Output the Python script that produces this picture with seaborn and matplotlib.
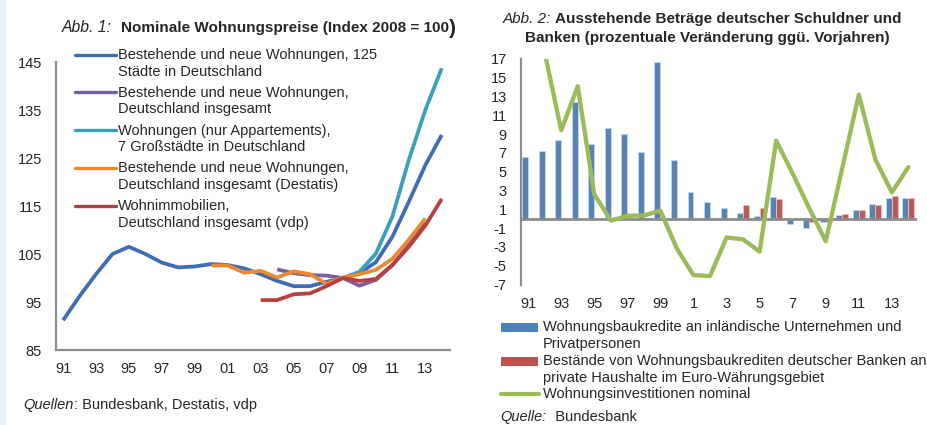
import numpy as np
import pandas as pd
import matplotlib
matplotlib.use("Agg")
import matplotlib.pyplot as plt
import seaborn as sns
from matplotlib.lines import Line2D
from matplotlib.patches import Rectangle

nan = np.nan
years = list(range(1991, 2015))

# Abb. 1 - Nominale Wohnungspreise (Index 2008 = 100)
preise_125_staedte = [91.2, 96.2, 100.8, 105.0, 106.5, 105.0, 103.2, 102.2, 102.4, 102.9,
                      102.7, 102.0, 100.8, 99.4, 98.3, 98.3, 99.2, 100.0, 101.0, 103.3,
                      108.6, 115.9, 123.5, 129.8]
preise_de_gesamt = [nan] * 13 + [101.8, 101.0, 100.6, 100.5, 100.0, 98.4, 99.6,
                                 102.7, 106.9, 111.5, nan]
preise_7_staedte = [nan] * 17 + [100.0, 101.3, 105.1, 112.8, 124.6, 135.0, 143.7]
preise_destatis = [nan] * 9 + [102.6, 102.6, 101.1, 101.5, 100.1, 101.4, 100.8, 98.8,
                               100.1, 100.8, 101.7, 104.0, 108.0, 112.4, nan]
preise_vdp = [nan] * 12 + [95.4, 95.4, 96.6, 96.8, 98.3, 100.0, 99.4, 99.8, 102.7,
                           106.5, 110.9, 116.5]

labels_abb1 = [
    ("Bestehende und neue Wohnungen, 125", "Städte in Deutschland"),
    ("Bestehende und neue Wohnungen,", "Deutschland insgesamt"),
    ("Wohnungen (nur Appartements),", "7 Großstädte in Deutschland"),
    ("Bestehende und neue Wohnungen,", "Deutschland insgesamt (Destatis)"),
    ("Wohnimmobilien,", "Deutschland insgesamt (vdp)"),
]
colors_abb1 = ["#3E6DB5", "#7B5FA5", "#3A9FB8", "#EC8A2F", "#B83F3B"]
xticks_abb1 = ["91", "93", "95", "97", "99", "01", "03", "05", "07", "09", "11", "13"]
yticks_abb1 = [85, 95, 105, 115, 125, 135, 145]

# Abb. 2 - Ausstehende Beträge (Veränderung ggü. Vorjahr in %)
kredite_unternehmen_private = [6.6, 7.2, 8.4, 12.4, 8.0, 9.6, 9.0, 7.1, 16.7, 6.2,
                               2.8, 1.8, 1.1, 0.6, 0.25, 2.35, -0.55, -0.95, -0.4, 0.35,
                               0.95, 1.55, 2.15, 2.15]
kredite_haushalte = [nan] * 13 + [1.45, 1.15, 2.1, 0.0, -0.4, -0.35, 0.45, 0.95, 1.5,
                                  2.45, 2.15]
investitionen_nominal = [nan, 17.7, 9.4, 14.1, 2.6, -0.2, 0.3, 0.35, 0.85, -3.2,
                         -6.0, -6.1, -2.0, -2.2, -3.5, 8.3, 4.8, 1.1, -2.4, 5.4,
                         13.2, 6.3, 2.8, 5.5]
labels_abb2 = [
    ("Wohnungsbaukredite an inländische Unternehmen und", "Privatpersonen"),
    ("Bestände von Wohnungsbaukrediten deutscher Banken an",
     "private Haushalte im Euro-Währungsgebiet"),
    ("Wohnungsinvestitionen nominal", None),
]
colors_abb2 = ["#4F81BD", "#C0504D", "#9BBB59"]
xticks_abb2 = ["91", "93", "95", "97", "99", "1", "3", "5", "7", "9", "11", "13"]
yticks_abb2 = [-7, -5, -3, -1, 1, 3, 5, 7, 9, 11, 13, 15, 17]

sns.set_theme(style="white")
plt.rcParams["font.family"] = ["Liberation Sans", "DejaVu Sans"]
TXT = "#262626"
GRID = "#8C8C8C"
FS = 10.5
FS_TITLE = 11.0

W, H = 928, 425
fig = plt.figure(figsize=(W / 100, H / 100), dpi=100)
fig.patch.set_facecolor("white")
fig.add_artist(Rectangle((0, 0), 6 / W, 1, transform=fig.transFigure,
                         facecolor="#EAF3FA", edgecolor="none"))
renderer = fig.canvas.get_renderer()


def fx(x):
    return x / W


def fy(y):
    return 1 - y / H


def chain(x, y, parts):
    """Write text pieces one after another on a line; parts = (text, kwargs, gap_px)."""
    for text, kw, gap in parts:
        t = fig.text(fx(x), fy(y), text, color=TXT, va="center", ha="left", **kw)
        bb = t.get_window_extent(renderer=renderer)
        x = bb.x1 + gap


# ---------------- Abb. 1 ----------------
ax1 = fig.add_axes([fx(56), fy(350), 394 / W, 288 / H])
series1 = [preise_125_staedte, preise_de_gesamt, preise_7_staedte,
           preise_destatis, preise_vdp]
names1 = [a + " " + b for a, b in labels_abb1]
df1 = pd.concat([pd.DataFrame({"Jahr": years, "Index": vals, "Reihe": name})
                 for name, vals in zip(names1, series1)], ignore_index=True)
sns.lineplot(data=df1.dropna(), x="Jahr", y="Index", hue="Reihe", hue_order=names1,
             palette=dict(zip(names1, colors_abb1)), linewidth=2.7, legend=False,
             ax=ax1, solid_capstyle="butt")
ax1.set_xlim(1990.57, 2014.5)
ax1.set_ylim(85, 145)
ax1.set_yticks(yticks_abb1)
ax1.set_yticklabels([str(v) for v in yticks_abb1])
ax1.set_xticks(years[::2])
ax1.set_xticklabels(xticks_abb1)
ax1.set_xlabel("")
ax1.set_ylabel("")
for side in ["top", "right"]:
    ax1.spines[side].set_visible(False)
for side in ["left", "bottom"]:
    ax1.spines[side].set_color(GRID)
    ax1.spines[side].set_linewidth(1.6)
ax1.tick_params(axis="y", length=0, pad=10, labelsize=FS, labelcolor=TXT)
ax1.tick_params(axis="x", length=0, pad=8.5, labelsize=FS, labelcolor=TXT)
ax1.patch.set_alpha(0)

# legend of Abb. 1
leg_rows1 = [55, 92.7, 130.7, 168.3, 206]
for (l1, l2), col, y in zip(labels_abb1, colors_abb1, leg_rows1):
    fig.add_artist(Line2D([fx(75), fx(116)], [fy(y - 0.5), fy(y - 0.5)],
                          transform=fig.transFigure, color=col, lw=2.4,
                          solid_capstyle="round"))
    fig.text(fx(118), fy(y), l1, fontsize=FS, color=TXT, va="center", ha="left")
    fig.text(fx(118), fy(y + 16.7), l2, fontsize=FS, color=TXT, va="center", ha="left")

# ---------------- Abb. 2 ----------------
ax2 = fig.add_axes([fx(520.7), fy(284.5), 396 / W, 225.6 / H])
year_lbl = [str(y) for y in years]
names2 = [labels_abb2[0][0], labels_abb2[1][0]]
df2 = pd.concat([
    pd.DataFrame({"Jahr": year_lbl, "Wert": kredite_unternehmen_private, "Reihe": names2[0]}),
    pd.DataFrame({"Jahr": year_lbl, "Wert": kredite_haushalte, "Reihe": names2[1]}),
], ignore_index=True)
sns.barplot(data=df2, x="Jahr", y="Wert", hue="Reihe", order=year_lbl, hue_order=names2,
            palette=dict(zip(names2, colors_abb2[:2])), width=0.72, errorbar=None,
            legend=False, ax=ax2, zorder=2, linewidth=0)
for p in ax2.patches:
    fc = p.get_facecolor()
    light = tuple(min(1, c + 0.35) for c in fc[:3])
    p.set_edgecolor(light)
    p.set_linewidth(0.6)

pos = np.arange(len(years))
sns.lineplot(x=pos, y=investitionen_nominal, color=colors_abb2[2], linewidth=3.1,
             ax=ax2, zorder=4)
ax2.axhline(0, color=GRID, lw=2.0, zorder=3)
ax2.set_xlim(-0.45, len(years) - 0.5)
ax2.set_ylim(-7, 17)
ax2.set_yticks(yticks_abb2)
ax2.set_yticklabels([str(v) for v in yticks_abb2])
ax2.set_xticks(pos[::2])
ax2.set_xticklabels(xticks_abb2)
ax2.set_xlabel("")
ax2.set_ylabel("")
for side in ["top", "right", "bottom"]:
    ax2.spines[side].set_visible(False)
ax2.spines["left"].set_color(GRID)
ax2.spines["left"].set_linewidth(1.6)
ax2.tick_params(axis="y", length=0, pad=10, labelsize=FS, labelcolor=TXT)
ax2.tick_params(axis="x", length=0, pad=9, labelsize=FS, labelcolor=TXT)
ax2.patch.set_alpha(0)

# legend of Abb. 2
leg_rows2 = [327, 361]
for (l1, l2), col, y in zip(labels_abb2[:2], colors_abb2[:2], leg_rows2):
    fig.add_artist(Rectangle((fx(500.7), fy(y + 4.5)), 37.6 / W, 9 / H,
                             transform=fig.transFigure, facecolor=col, edgecolor="none"))
    fig.text(fx(542.7), fy(y), l1, fontsize=FS, color=TXT, va="center", ha="left")
    fig.text(fx(542.7), fy(y + 16.7), l2, fontsize=FS, color=TXT, va="center", ha="left")
fig.add_artist(Line2D([fx(501), fx(539)], [fy(394), fy(394)], transform=fig.transFigure,
                      color=colors_abb2[2], lw=3.0, solid_capstyle="round"))
fig.text(fx(542.7), fy(394), labels_abb2[2][0], fontsize=FS, color=TXT,
         va="center", ha="left")

# ---------------- titles and sources ----------------
chain(62, 28, [("Abb. 1:", dict(fontsize=FS_TITLE + 0.3, style="italic"), 9),
               ("Nominale Wohnungspreise (Index 2008 = 100", dict(fontsize=FS_TITLE,
                                                                  weight="bold"), 0.5),
               (")", dict(fontsize=15, weight="bold"), 0)])

chain(503, 19, [("Abb. 2:", dict(fontsize=FS_TITLE, style="italic"), 4),
                ("Ausstehende Beträge deutscher Schuldner und",
                 dict(fontsize=FS_TITLE, weight="bold"), 0)])
fig.text(fx(707), fy(38), "Banken (prozentuale Veränderung ggü. Vorjahren)",
         fontsize=FS_TITLE, weight="bold", color=TXT, va="center", ha="center")

chain(23.3, 405, [("Quellen", dict(fontsize=FS, style="italic"), 0),
                  (": Bundesbank, Destatis, vdp", dict(fontsize=FS), 0)])
chain(500.7, 416.7, [("Quelle:", dict(fontsize=FS, style="italic"), 0),
                     ("  Bundesbank", dict(fontsize=FS), 0)])

fig.savefig("out.png", dpi=100, facecolor="white")
